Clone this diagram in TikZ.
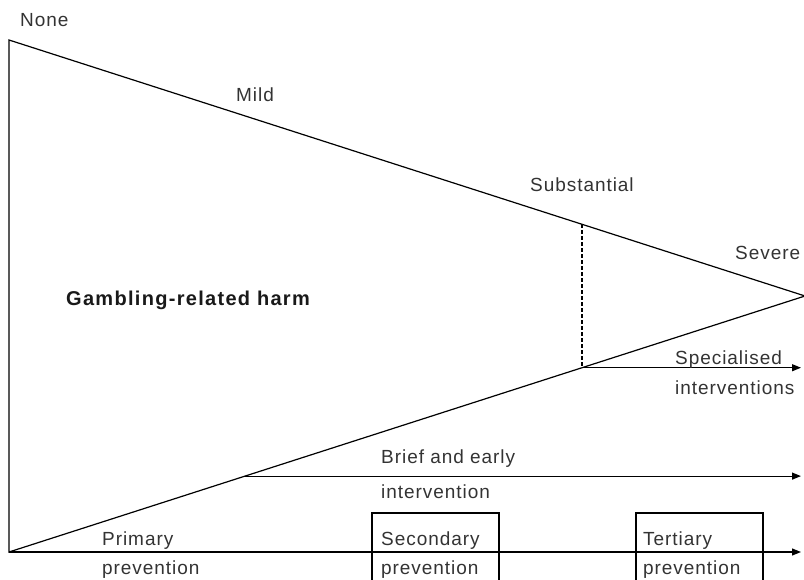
\documentclass[tikz,border=0pt]{standalone}
\usepackage{fontspec}
\setmainfont{Liberation Sans}
\usetikzlibrary{arrows.meta,calc}
\begin{document}
\begin{tikzpicture}[x=1pt,y=-1pt,
  lbl/.style={anchor=base west,inner sep=0pt,text=black!80,font=\fontsize{19}{21}\selectfont\addfontfeatures{LetterSpace=5}},
  bold/.style={anchor=base west,inner sep=0pt,text=black!90,font=\fontsize{20}{22}\selectfont\bfseries\addfontfeatures{LetterSpace=6.5}},
  edge/.style={line width=1.2pt,black},
  arr/.style={line width=1.2pt,black,-{Triangle[length=9pt,width=7pt]}},
  dsh/.style={line width=1.2pt,black,dash pattern=on 4pt off 2pt},
  boxline/.style={line width=1.2pt,black}]
\useasboundingbox (0,0) rectangle (804,580);
% vertices
\coordinate (TL) at (9,40);
\coordinate (BL) at (9,552);
\coordinate (AP) at (805,296);
\coordinate (D) at ($(TL)!{573/796}!(AP)$);
\coordinate (E) at ($(BL)!{573/796}!(AP)$);
\coordinate (F) at ($(BL)!{236/796}!(AP)$);
\coordinate (Gend) at (801,0 |- E);
\coordinate (Hend) at (801,0 |- F);
\coordinate (Iend) at (801,0 |- BL);
% triangle
\draw[edge] (AP) -- (TL) -- (BL) -- (AP);
\draw[dsh] (D) -- (E);
% arrows
\draw[arr] (E) -- (Gend);
\draw[arr] (F) -- (Hend);
\draw[arr] (BL) -- (Iend);
% boxes
\draw[boxline] (372,582) -- (372,513) -- (499,513) -- (499,582);
\draw[boxline] (636,582) -- (636,513) -- (763,513) -- (763,582);
% labels
\node[lbl] (none) at (20,27) {None};
\node[lbl] (mild) at (236,102) {Mild};
\node[lbl] (subst) at (530,192) {Substantial};
\node[lbl] (severe) at (735,260) {Severe};
\node[bold] (harm) at (66,306) {Gambling-related harm};
\node[lbl] (spec1) at (675,364) {Specialised};
\node[lbl] (spec2) at (675,395) {interventions};
\node[lbl] (brief1) at (381,463) {Brief and early};
\node[lbl] (brief2) at (381,498) {intervention};
\node[lbl] (prim1) at (102,545) {Primary};
\node[lbl] (prim2) at (102,574) {prevention};
\node[lbl] (sec1) at (381,545) {Secondary};
\node[lbl] (sec2) at (381,574) {prevention};
\node[lbl] (ter1) at (643,545) {Tertiary};
\node[lbl] (ter2) at (643,574) {prevention};
\end{tikzpicture}
\end{document}
